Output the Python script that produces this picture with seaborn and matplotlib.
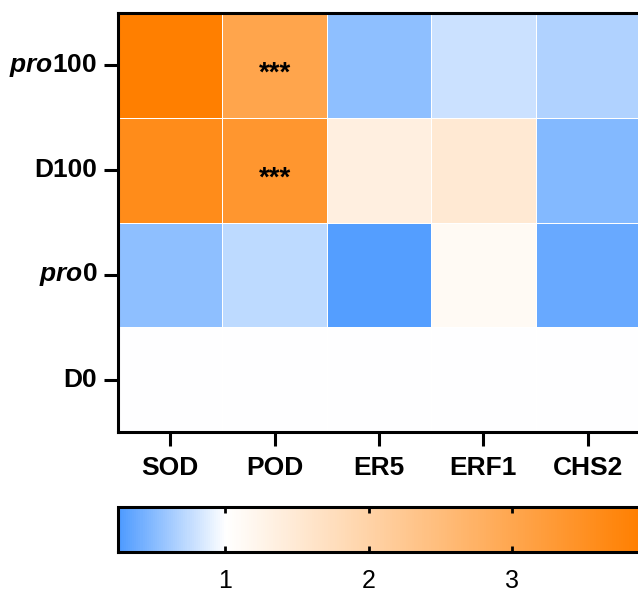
import numpy as np
import pandas as pd
import seaborn as sns
import matplotlib.pyplot as plt
from matplotlib.colors import LinearSegmentedColormap

sns.set_style("white")
plt.rcParams["font.family"] = ["Liberation Sans", "DejaVu Sans"]
plt.rcParams["text.color"] = "black"
plt.rcParams["axes.labelcolor"] = "black"
plt.rcParams["xtick.color"] = "black"
plt.rcParams["ytick.color"] = "black"
plt.rcParams["mathtext.fontset"] = "custom"
plt.rcParams["mathtext.rm"] = "Liberation Sans:bold"
plt.rcParams["mathtext.bfit"] = "Liberation Sans:italic:bold"

# data
genes = ["SOD", "POD", "ER5", "ERF1", "CHS2"]
groups = ["pro100", "D100", "pro0", "D0"]
group_labels = [r"$\mathbfit{pro}$100", "D100", r"$\mathbfit{pro}$0", "D0"]
sod = [3.90, 3.60, 0.53, 1.00]
pod = [3.04, 3.36, 0.73, 1.00]
er5 = [0.53, 1.35, 0.28, 1.00]
erf1 = [0.78, 1.50, 1.12, 1.00]
chs2 = [0.67, 0.48, 0.37, 1.00]
stars_pod = ["***", "***", "", ""]

vmin, vmax = 0.25, 3.9
cb_ticks = [1, 2, 3]

df = pd.DataFrame({"SOD": sod, "POD": pod, "ER5": er5, "ERF1": erf1, "CHS2": chs2},
                  index=groups)
annot = pd.DataFrame("", index=groups, columns=genes)
annot["POD"] = stars_pod

mid = (1 - vmin) / (vmax - vmin)
cmap = LinearSegmentedColormap.from_list(
    "bwo", [(0, "#4d9aff"), (mid, "#ffffff"), (1, "#ff7f00")])

fig = plt.figure(figsize=(6.38, 5.94), dpi=100)
ax = fig.add_axes([118 / 638, 1 - 432 / 594, 522 / 638, 419 / 594])
cax = fig.add_axes([118 / 638, 1 - 552 / 594, 523 / 638, 45 / 594])

sns.heatmap(df, ax=ax, cbar_ax=cax, cmap=cmap, vmin=vmin, vmax=vmax,
            annot=annot.values, fmt="", linewidths=0.6, linecolor="white",
            annot_kws={"fontsize": 20, "color": "black", "fontweight": "bold"},
            cbar_kws={"orientation": "horizontal", "ticks": cb_ticks})

# asterisks sit a bit below the cell centre in the original
for t in ax.texts:
    x, y = t.get_position()
    t.set_position((x, y + 0.08))

ax.set_yticklabels(group_labels, rotation=0, fontsize=19, fontweight="bold")
ax.set_xticklabels(genes, rotation=0, fontsize=19, fontweight="bold")
ax.set_xlabel("")
ax.set_ylabel("")
ax.tick_params(axis="both", length=10, width=2.2, color="black",
               left=True, bottom=True)
ax.tick_params(axis="y", pad=5)
ax.tick_params(axis="x", pad=7)
for side in ["left", "top", "bottom"]:
    ax.spines[side].set_visible(True)
    ax.spines[side].set_linewidth(2.2)
    ax.spines[side].set_color("black")

cax.set_axisbelow(False)
cax.tick_params(axis="x", direction="in", top=True, bottom=True, length=4,
                width=2, color="black", labelsize=18, pad=12)
cbar = ax.collections[0].colorbar
cbar.outline.set_linewidth(2.2)
cbar.outline.set_edgecolor("black")

fig.savefig("out.png", dpi=100)
